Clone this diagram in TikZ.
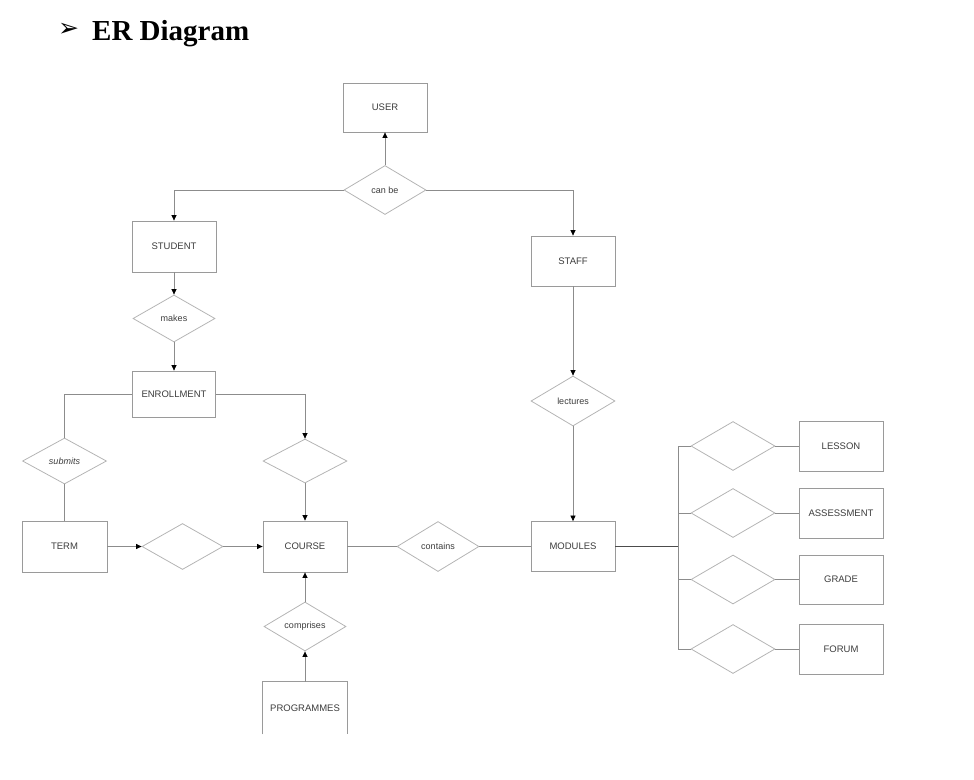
\documentclass[tikz,border=0pt]{standalone}
\usepackage{fontspec}
\setmainfont{Liberation Sans}
\newfontfamily\titlefont{Liberation Serif}
\newfontfamily\symfont{DejaVu Sans}
\usetikzlibrary{shapes.geometric,arrows.meta}
\definecolor{boxgray}{HTML}{9A9A9A}
\definecolor{diagray}{HTML}{B4B4B4}
\definecolor{linegray}{HTML}{8C8C8C}
\definecolor{txtgray}{HTML}{3C3C3C}
\begin{document}
\begin{tikzpicture}[x=1pt,y=-1pt,
  ent/.style={draw=boxgray, line width=0.8pt, minimum width=84pt, minimum height=50pt, inner sep=0pt, font=\fontsize{9.5}{11}\selectfont, text=txtgray},
  rel/.style={draw=diagray, shape=diamond, aspect=1.65, line width=0.8pt, minimum width=82pt, minimum height=49pt, inner sep=0pt, font=\fontsize{9}{10}\selectfont, text=txtgray},
  conn/.style={draw=linegray, line width=0.7pt},
  arr/.style={conn, -{Triangle[length=5.5pt,width=5pt,color=black]}}]
\useasboundingbox (0,0) rectangle (974,779);

% title
\node[anchor=center, font=\symfont\fontsize{25}{28}\selectfont, inner sep=0pt] (bullet) at (68.5,30) {➢};
\node[anchor=base west, font=\titlefont\bfseries\fontsize{29}{32}\selectfont, inner sep=0pt] (title) at (92,40) {ER Diagram};

% entities and relations
\node[ent, minimum height=49pt] (user) at (385,107.5) {USER};
\node[rel] (canbe) at (385,190) {can be};
\node[ent, minimum height=51pt] (student) at (174,246.5) {STUDENT};
\node[ent] (staff) at (573,261) {STAFF};
\node[rel, minimum height=47pt] (makes) at (174,318.5) {makes};
\node[ent, minimum width=83pt, minimum height=46pt] (enroll) at (174,394) {ENROLLMENT};
\node[rel, minimum width=84pt, minimum height=46pt] (submits) at (64.5,461) {\itshape submits};
\node[ent, minimum width=85pt, minimum height=51pt] (term) at (64.5,546.5) {TERM};
\node[rel, minimum width=84pt, minimum height=44pt] (r1) at (305,461) {};
\node[ent, minimum height=51pt] (course) at (305,546.5) {COURSE};
\node[rel, minimum width=81pt, minimum height=46pt] (r2) at (182.5,546.5) {};
\node[rel, minimum height=50pt] (contains) at (438,546.5) {contains};
\node[ent] (modules) at (573,546.5) {MODULES};
\node[rel] (comprises) at (305,626.5) {comprises};
\node[ent, draw=none, minimum height=52pt] (prog) at (305,708) {PROGRAMMES};
\draw[boxgray, line width=0.8pt] (prog.south west) -- (prog.north west) -- (prog.north east) -- (prog.south east);
\node[rel, minimum width=84pt, minimum height=50pt] (lectures) at (573,401) {lectures};

\node[ent] (lesson) at (841,446) {LESSON};
\node[ent] (assess) at (841,513) {ASSESSMENT};
\node[ent, minimum height=49pt] (grade) at (841,579.5) {GRADE};
\node[ent] (forum) at (841,649) {FORUM};
\node[rel, minimum width=84pt] (d1) at (733,446) {};
\node[rel, minimum width=84pt] (d2) at (733,513) {};
\node[rel, minimum width=84pt] (d3) at (733,579.5) {};
\node[rel, minimum width=84pt] (d4) at (733,649) {};
\coordinate (bar) at (678,546.5);

% connectors
\draw[arr] (canbe.north) -- (user.south);
\draw[arr] (canbe.west) -| (student.north);
\draw[arr] (canbe.east) -| (staff.north);
\draw[arr] (student.south) -- (makes.north);
\draw[arr] (makes.south) -- (enroll.north);
\draw[conn] (enroll.west) -| (submits.north);
\draw[conn] (submits.south) -- (term.north);
\draw[arr] (enroll.east) -| (r1.north);
\draw[arr] (r1.south) -- (course.north);
\draw[arr] (term.east) -- (r2.west);
\draw[arr] (r2.east) -- (course.west);
\draw[conn] (course.east) -- (contains.west);
\draw[conn] (contains.east) -- (modules.west);
\draw[arr] (comprises.north) -- (course.south);
\draw[arr] (prog.north) -- (comprises.south);
\draw[arr] (staff.south) -- (lectures.north);
\draw[arr] (lectures.south) -- (modules.north);
\draw[draw=black!70, line width=1.4pt] (modules.east) -- (bar);
\foreach \d/\b in {d1/lesson,d2/assess,d3/grade,d4/forum}{
  \draw[conn] (\d.west) -| (bar);
  \draw[conn] (\d.east) -- (\b.west);
}
\end{tikzpicture}
\end{document}
